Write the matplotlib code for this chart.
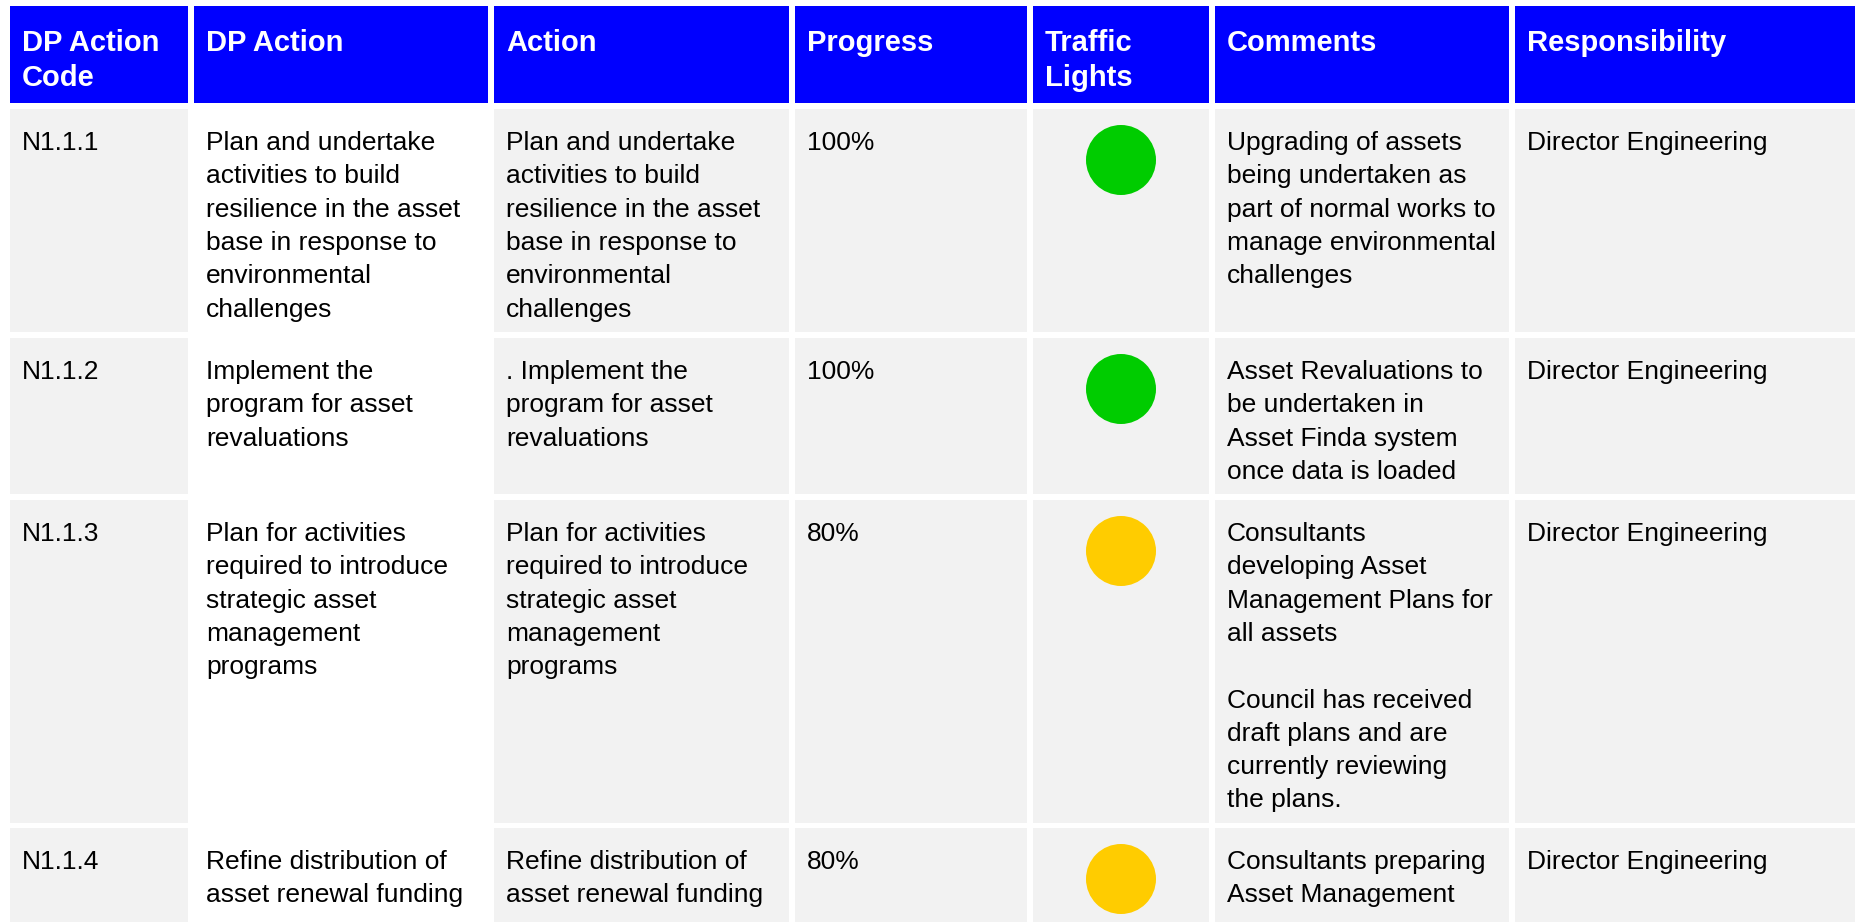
import matplotlib.pyplot as plt
from matplotlib.patches import Rectangle, Circle

plt.rcParams['font.family'] = ['Liberation Sans', 'DejaVu Sans']

# table content
headers = ['DP Action\nCode', 'DP Action', 'Action', 'Progress', 'Traffic\nLights',
           'Comments', 'Responsibility']
codes = ['N1.1.1', 'N1.1.2', 'N1.1.3', 'N1.1.4']
dp_actions = [
    'Plan and undertake\nactivities to build\nresilience in the asset\nbase in response to\nenvironmental\nchallenges',
    'Implement the\nprogram for asset\nrevaluations',
    'Plan for activities\nrequired to introduce\nstrategic asset\nmanagement\nprograms',
    'Refine distribution of\nasset renewal funding',
]
actions = [
    'Plan and undertake\nactivities to build\nresilience in the asset\nbase in response to\nenvironmental\nchallenges',
    '. Implement the\nprogram for asset\nrevaluations',
    'Plan for activities\nrequired to introduce\nstrategic asset\nmanagement\nprograms',
    'Refine distribution of\nasset renewal funding',
]
progress = ['100%', '100%', '80%', '80%']
lights = ['green', 'green', 'amber', 'amber']
comments = [
    'Upgrading of assets\nbeing undertaken as\npart of normal works to\nmanage environmental\nchallenges',
    'Asset Revaluations to\nbe undertaken in\nAsset Finda system\nonce data is loaded',
    'Consultants\ndeveloping Asset\nManagement Plans for\nall assets\n\nCouncil has received\ndraft plans and are\ncurrently reviewing\nthe plans.',
    'Consultants preparing\nAsset Management',
]
responsibility = ['Director Engineering'] * 4

# layout (pixels)
W, H = 1856, 922
col_x = [10, 194, 494, 795, 1033, 1215, 1515]
col_r = [188, 488, 789, 1027, 1209, 1509, 1856]
header_top, header_bot = 6, 103
row_top = [109, 338, 500, 828]
row_bot = [332, 494, 823, 922]
pad = 12
line_step = 33.3

blue = '#0000FF'
grey = '#F2F2F2'
light_colors = {'green': '#00CC00', 'amber': '#FFCC00'}

fig = plt.figure(figsize=(W / 100, H / 100), dpi=100)
ax = fig.add_axes([0, 0, 1, 1])
ax.set_xlim(0, W)
ax.set_ylim(H, 0)
ax.axis('off')


def put_lines(x, top, text, step, size, **kw):
    for i, line in enumerate(text.split('\n')):
        ax.text(x, top + i * step, line, va='baseline', ha='left', fontsize=size, **kw)


# header
for j, h in enumerate(headers):
    ax.add_patch(Rectangle((col_x[j], header_top), col_r[j] - col_x[j],
                           header_bot - header_top, color=blue, lw=0))
    put_lines(col_x[j] + pad, header_top + 45, h, 34.5, 21,
              color='white', fontweight='bold')

# body rows
for i in range(len(codes)):
    cells = [codes[i], dp_actions[i], actions[i], progress[i], '', comments[i],
             responsibility[i]]
    for j, txt in enumerate(cells):
        bg = 'white' if j == 1 else grey
        ax.add_patch(Rectangle((col_x[j], row_top[i]), col_r[j] - col_x[j],
                               row_bot[i] - row_top[i], color=bg, lw=0))
        if txt:
            put_lines(col_x[j] + pad, row_top[i] + 41, txt, line_step, 19, color='black')
    cx = (col_x[4] + col_r[4]) / 2
    ax.add_patch(Circle((cx, row_top[i] + 51), 35, color=light_colors[lights[i]], lw=0))

fig.savefig('out.png', dpi=100)
